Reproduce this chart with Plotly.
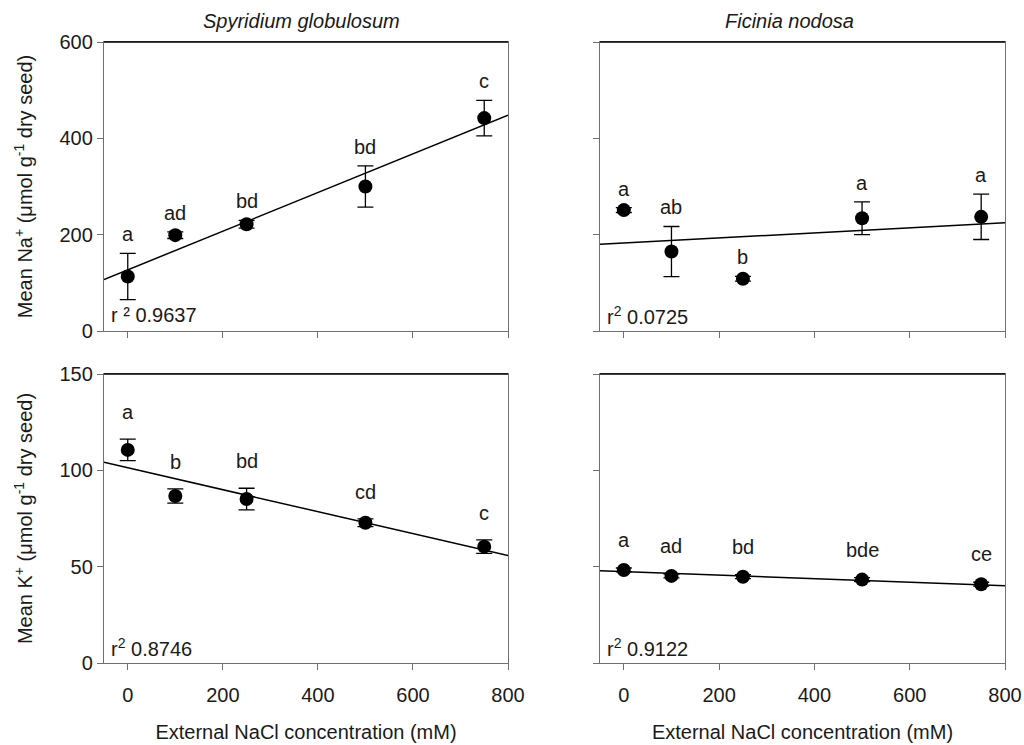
import plotly.graph_objects as go

# ---- data ----
nacl = [0, 100, 250, 500, 750]

na_spy = [113, 199, 221.5, 300, 442]
na_spy_err = [48, 7, 8, 43, 37]
na_spy_lab = ["a", "ad", "bd", "bd", "c"]
na_spy_fit = [127, 0.401]   # intercept, slope
na_spy_r2 = "r \u00b2 0.9637"

na_fic = [251, 165, 108.6, 234, 237]
na_fic_err = [5, 52, 5, 34, 47]
na_fic_lab = ["a", "ab", "b", "a", "a"]
na_fic_fit = [182.6, 0.053]
na_fic_r2 = "r<sup>2</sup> 0.0725"

k_spy = [110.6, 86.7, 85.1, 72.8, 60.4]
k_spy_err = [5.6, 3.7, 5.6, 2, 3.5]
k_spy_lab = ["a", "b", "bd", "cd", "c"]
k_spy_fit = [101.35, -0.057]
k_spy_r2 = "r<sup>2</sup> 0.8746"

k_fic = [48.3, 45.2, 44.8, 43.3, 40.9]
k_fic_err = [1, 1, 1, 1, 1]
k_fic_lab = ["a", "ad", "bd", "bde", "ce"]
k_fic_fit = [47.4, -0.0091]
k_fic_r2 = "r<sup>2</sup> 0.9122"

x_range = [-50, 800]
x_ticks = [0, 200, 400, 600, 800]
na_ticks = [0, 200, 400, 600]
k_ticks = [0, 50, 100, 150]

titles = ["<i>Spyridium globulosum</i>", "<i>Ficinia nodosa</i>"]
x_title = "External NaCl concentration (mM)"
na_title = "Mean Na<sup>+</sup> (\u03bcmol g<sup>-1</sup> dry seed)"
k_title = "Mean K<sup>+</sup> (\u03bcmol g<sup>-1</sup> dry seed)"

FONT = "Liberation Sans, Arial, sans-serif"
FS = 20
TXT = "#1a1a1a"
W, H = 1024, 745
ML, MR, MT, MB = 104, 19, 42, 82

fig = go.Figure()

panels = [
    (na_spy, na_spy_err, na_spy_lab, na_spy_fit, na_spy_r2, "x", "y", 19),
    (na_fic, na_fic_err, na_fic_lab, na_fic_fit, na_fic_r2, "x2", "y2", 19),
    (k_spy, k_spy_err, k_spy_lab, k_spy_fit, k_spy_r2, "x3", "y3", 27),
    (k_fic, k_fic_err, k_fic_lab, k_fic_fit, k_fic_r2, "x4", "y4", 28),
]

annotations = []
shapes = []
for vals, errs, labs, fit, r2, xa, ya, shift in panels:
    b0, b1 = fit
    fig.add_trace(go.Scatter(
        x=x_range, y=[b0 + b1 * x_range[0], b0 + b1 * x_range[1]],
        mode="lines", line=dict(color="black", width=1.5),
        xaxis=xa, yaxis=ya, showlegend=False, hoverinfo="skip"))
    fig.add_trace(go.Scatter(
        x=nacl, y=vals, mode="markers",
        marker=dict(color="black", size=14),
        error_y=dict(type="data", array=errs, visible=True,
                     color="black", thickness=1.3, width=8),
        xaxis=xa, yaxis=ya, showlegend=False))
    for xv, v, e, t in zip(nacl, vals, errs, labs):
        annotations.append(dict(x=xv, y=v + e, xref=xa, yref=ya, text=t,
                                showarrow=False, yanchor="middle", yshift=shift,
                                font=dict(size=FS, color=TXT, family=FONT)))
    annotations.append(dict(x=0.012, y=0.055, xref=xa + " domain", yref=ya + " domain",
                            text=r2, showarrow=False, xanchor="left", yanchor="middle",
                            font=dict(size=FS, color=TXT, family=FONT)))
    shapes.append(dict(type="line", xref=xa + " domain", yref=ya + " domain",
                       x0=0, x1=1, y0=1, y1=1, line=dict(color="black", width=1.3)))

# panel titles
annotations.append(dict(x=0.49, y=1.072, xref="x domain", yref="y domain", text=titles[0],
                        xanchor="center", yanchor="middle", showarrow=False,
                        font=dict(size=FS, color=TXT, family=FONT)))
annotations.append(dict(x=0.467, y=1.072, xref="x2 domain", yref="y2 domain", text=titles[1],
                        xanchor="center", yanchor="middle", showarrow=False,
                        font=dict(size=FS, color=TXT, family=FONT)))

PW, PH = W - ML - MR, H - MT - MB
xdom_l = [0, (508 - ML) / PW]
xdom_r = [(600 - ML) / PW, 1]
ydom_t = [(H - MB - 331) / PH, 1]
ydom_b = [0, (H - MB - 374) / PH]

axcol = "#707070"
common = dict(showgrid=False, zeroline=False, showline=True, linecolor=axcol, linewidth=1.3,
              mirror=True, ticks="outside", ticklen=6, tickcolor=axcol, tickwidth=1.3,
              automargin=False,
              tickfont=dict(size=FS, color=TXT, family=FONT))

def xax(dom, anchor, labels):
    d = dict(common, domain=dom, anchor=anchor, range=x_range, tickvals=x_ticks,
             showticklabels=labels, ticklabelstandoff=8)
    if labels:
        d["title"] = dict(text=x_title, standoff=19,
                          font=dict(size=FS, color=TXT, family=FONT))
    return d

def yax(dom, anchor, rng, tv, labels, title):
    d = dict(common, domain=dom, anchor=anchor, range=rng, tickvals=tv,
             showticklabels=labels)
    if title:
        d["title"] = dict(text=title, standoff=21,
                          font=dict(size=FS, color=TXT, family=FONT))
    return d

fig.update_layout(
    width=W, height=H,
    margin=dict(l=ML, r=MR, t=MT, b=MB),
    paper_bgcolor="white", plot_bgcolor="white",
    font=dict(family=FONT, size=FS, color=TXT),
    xaxis=xax(xdom_l, "y", False),
    yaxis=yax(ydom_t, "x", [0, 600], na_ticks, True, na_title),
    xaxis2=xax(xdom_r, "y2", False),
    yaxis2=yax(ydom_t, "x2", [0, 600], na_ticks, False, None),
    xaxis3=xax(xdom_l, "y3", True),
    yaxis3=yax(ydom_b, "x3", [0, 150], k_ticks, True, k_title),
    xaxis4=xax(xdom_r, "y4", True),
    yaxis4=yax(ydom_b, "x4", [0, 150], k_ticks, False, None),
    annotations=annotations,
    shapes=shapes,
)

fig.write_html("out.html")
